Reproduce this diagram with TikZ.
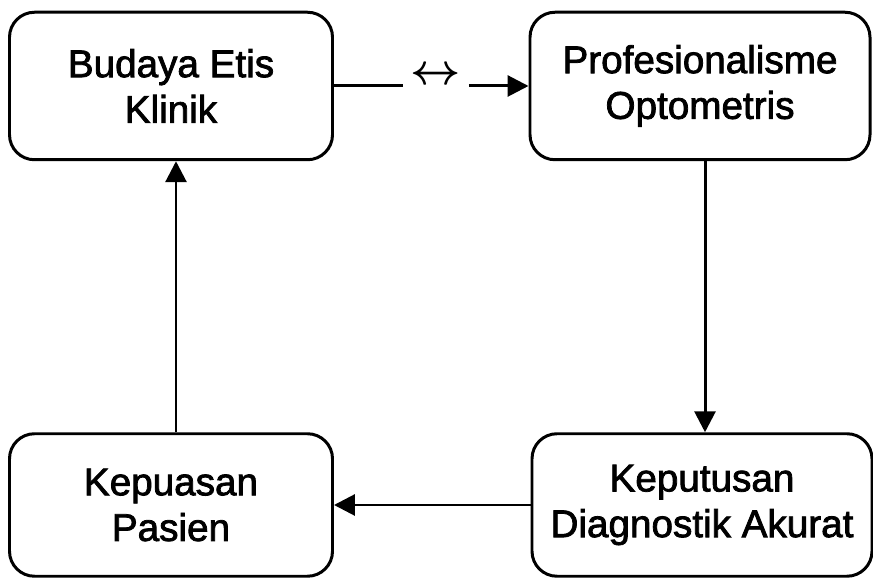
\documentclass[tikz,border=0pt]{standalone}
\usepackage{fontspec}
\setmainfont{Liberation Sans}[BoldFont=Liberation Sans, BoldFeatures={FakeBold=2}]
\usetikzlibrary{arrows.meta}
\begin{document}
\begin{tikzpicture}[
  box/.style={draw, line width=1.7pt, rounded corners=0.5cm, align=center,
    minimum height=2.95cm, font=\fontsize{22}{26}\selectfont\bfseries},
  link/.style={line width=1.7pt, -{Triangle[length=0.42cm,width=0.42cm]}}]
\useasboundingbox (0,0) rectangle (17.46,11.58);
\node[box, minimum width=6.46cm] (etis) at (3.42,9.86) {Budaya Etis\\Klinik};
\node[box, minimum width=6.8cm] (prof) at (14.0,9.86) {Profesionalisme\\Optometris};
\node[box, minimum width=6.46cm, minimum height=2.85cm] (puas) at (3.42,1.48) {Kepuasan\\Pasien};
\node[box, minimum width=6.8cm, minimum height=2.85cm] (diag) at (14.04,1.48) {Keputusan\\Diagnostik Akurat};
\node[inner sep=0.15cm, font=\fontsize{25}{25}\selectfont\boldmath] (sym) at (8.72,10.06) {$\leftrightarrow$};
\draw[line width=1.7pt] (etis.east) -- (sym.west |- etis.east);
\draw[link] (sym.east |- prof.west) -- (prof.west);
\draw[link] ([xshift=0.1cm]prof.south) -- ([xshift=0.1cm]prof.south |- diag.north);
\draw[link] (diag.west) -- (puas.east);
\draw[link] ([xshift=0.1cm]puas.north) -- ([xshift=0.1cm]puas.north |- etis.south);
\end{tikzpicture}
\end{document}
